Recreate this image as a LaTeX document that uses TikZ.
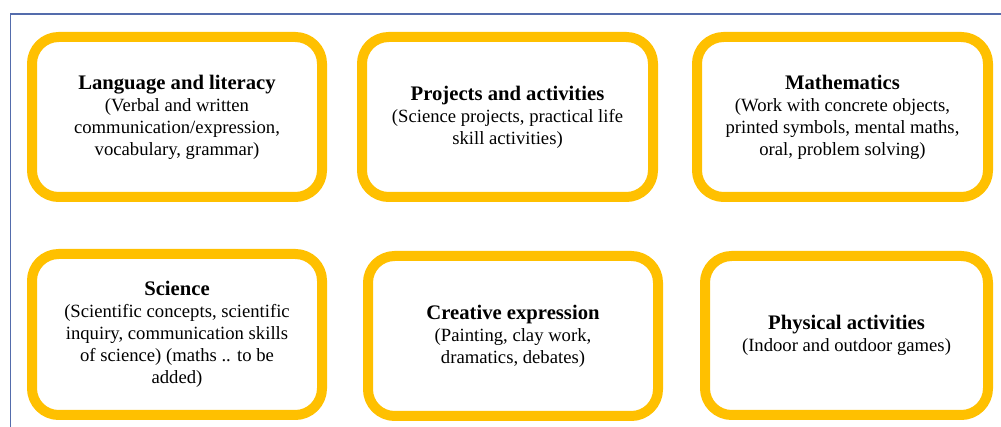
\documentclass[tikz,border=0pt]{standalone}
\usepackage{fontspec}
\setmainfont{Liberation Serif}
\begin{document}
\begin{tikzpicture}[x=0.75pt,y=-0.75pt,
  areabox/.style={draw=boxgold, line width=7.5pt, rounded corners=20pt, fill=white,
    align=center, text=black, inner sep=0pt,
    font=\fontsize{14}{16.5}\selectfont},
  framerule/.style={draw=frameblue, line width=0.8pt}]
\definecolor{boxgold}{RGB}{255,192,0}
\definecolor{frameblue}{RGB}{84,108,172}
\useasboundingbox (0,0) rectangle (1001,427);
\coordinate (ftop) at (1001,14);
\coordinate (fcorner) at (10.5,14);
\coordinate (fbottom) at (10.5,427);
\draw[framerule] (ftop) -- (fcorner) -- (fbottom);
\newcommand{\ttl}[1]{{\fontsize{15.5}{17}\selectfont\bfseries #1}}
\node[areabox, minimum width=217.5pt, minimum height=120pt] (lang) at (177,117)
  {\ttl{Language and literacy}\\(Verbal and written\\communication/expression,\\vocabulary, grammar)};
\node[areabox, minimum width=218.25pt, minimum height=120pt] (proj) at (507.5,117)
  {\ttl{Projects and activities}\\(Science projects, practical life\\skill activities)};
\node[areabox, minimum width=218.25pt, minimum height=120pt] (math) at (842.5,117)
  {\ttl{Mathematics}\\(Work with concrete objects,\\printed symbols, mental maths,\\oral, problem solving)};
\node[areabox, minimum width=217.5pt, minimum height=120.75pt] (sci) at (177,334.5)
  {\ttl{Science}\\(Scientific concepts, scientific\\inquiry, communication skills\\of science) (maths .. to be\\added)};
\node[areabox, minimum width=217.5pt, minimum height=120pt] (crea) at (513,336)
  {\ttl{Creative expression}\\(Painting, clay work,\\dramatics, debates)};
\node[areabox, minimum width=212.25pt, minimum height=119.25pt] (phys) at (846.5,335.5)
  {\ttl{Physical activities}\\(Indoor and outdoor games)};
\end{tikzpicture}
\end{document}
